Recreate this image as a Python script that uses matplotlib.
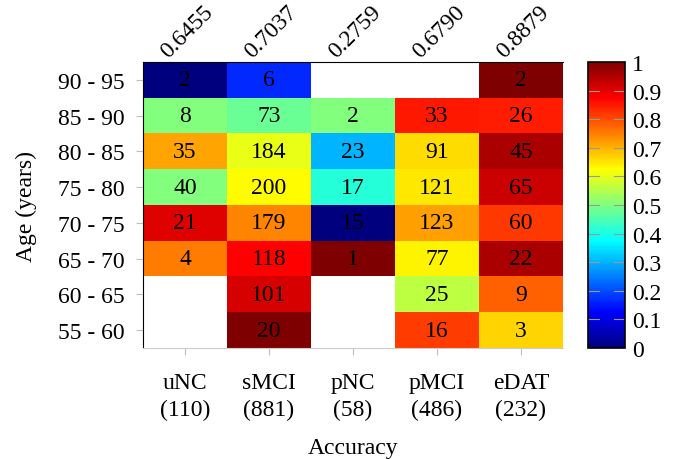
import numpy as np
import matplotlib
matplotlib.use("Agg")
import matplotlib.pyplot as plt
from matplotlib.colors import LinearSegmentedColormap

plt.rcParams["font.family"] = ["Liberation Serif", "DejaVu Serif"]
plt.rcParams["mathtext.fontset"] = "stix"

FS = 17

groups = ["uNC", "sMCI", "pNC", "pMCI", "eDAT"]
group_sizes = [110, 881, 58, 486, 232]
group_acc = [0.6455, 0.7037, 0.2759, 0.6790, 0.8879]
age_bins = ["90 - 95", "85 - 90", "80 - 85", "75 - 80",
            "70 - 75", "65 - 70", "60 - 65", "55 - 60"]

# subjects per age bin (rows top to bottom), None = empty bin
n_uNC = [2, 8, 35, 40, 21, 4, None, None]
n_sMCI = [6, 73, 184, 200, 179, 118, 101, 20]
n_pNC = [None, 2, 23, 17, 15, 1, None, None]
n_pMCI = [None, 33, 91, 121, 123, 77, 25, 16]
n_eDAT = [2, 26, 45, 65, 60, 22, 9, 3]

# accuracy per age bin
acc_uNC = [0.0, 0.5, 0.714, 0.5, 0.905, 0.75, None, None]
acc_sMCI = [0.167, 0.479, 0.603, 0.625, 0.743, 0.873, 0.911, 1.0]
acc_pNC = [None, 0.5, 0.304, 0.412, 0.0, 1.0, None, None]
acc_pMCI = [None, 0.848, 0.659, 0.645, 0.715, 0.636, 0.56, 0.8125]
acc_eDAT = [1.0, 0.846, 0.956, 0.923, 0.817, 0.955, 0.778, 0.667]

counts = [n_uNC, n_sMCI, n_pNC, n_pMCI, n_eDAT]
accs = [acc_uNC, acc_sMCI, acc_pNC, acc_pMCI, acc_eDAT]
acc_grid = np.array([[np.nan if v is None else v for v in col] for col in accs]).T
acc_grid = np.ma.masked_invalid(acc_grid)

# pgfplots-style jet
jet = LinearSegmentedColormap.from_list("pgfjet", [
    (0.0, (0, 0, 0.5)), (0.125, (0, 0, 1)), (0.375, (0, 1, 1)),
    (0.625, (1, 1, 0)), (0.875, (1, 0, 0)), (1.0, (0.5, 0, 0))])
jet.set_bad("white")

fig = plt.figure(figsize=(6.8, 4.6), dpi=100)
ax = fig.add_axes([0.2103, 0.2413, 0.6176, 0.6217])
cax = fig.add_axes([0.8647, 0.2413, 0.0544, 0.6217])

im = ax.imshow(acc_grid, cmap=jet, vmin=0, vmax=1, aspect="auto",
               interpolation="nearest")

for j, col in enumerate(counts):
    for i, n in enumerate(col):
        if n is not None:
            ax.text(j, i, str(n), ha="center", va="center", fontsize=FS)

ax.set_xticks(range(len(groups)))
ax.set_xticklabels([f"{g}\n({n})" for g, n in zip(groups, group_sizes)],
                   fontsize=FS, linespacing=1.4)
ax.set_yticks(range(len(age_bins)))
ax.set_yticklabels(age_bins, fontsize=FS)
ax.tick_params(axis="x", length=5, color="0.75", pad=12)
ax.tick_params(axis="y", length=5, color="0.75", pad=8)
ax.set_xlabel("Accuracy", fontsize=FS, labelpad=12)
ax.set_ylabel("Age (years)", fontsize=FS, labelpad=15)
ax.spines["bottom"].set_color("0.8")
ax.spines["right"].set_visible(False)

# overall accuracy per group, above each column
for j, a in enumerate(group_acc):
    ax.annotate(f"{a:.4f}", xy=(j, -0.5), xytext=(-12, 3),
                textcoords="offset points", rotation=45,
                rotation_mode="anchor", ha="left", va="baseline",
                fontsize=FS, annotation_clip=False)

cb = fig.colorbar(im, cax=cax, ticks=np.arange(0, 1.01, 0.1))
cb.ax.set_yticklabels(["0", "0.1", "0.2", "0.3", "0.4", "0.5",
                       "0.6", "0.7", "0.8", "0.9", "1"])
cb.ax.tick_params(labelsize=FS, length=0, pad=5)
cb.outline.set_linewidth(1.2)
for t in np.arange(0.1, 1.0, 0.1):
    cb.ax.plot([0, 0.3], [t, t], color="0.6", lw=0.8, transform=cb.ax.get_yaxis_transform())
    cb.ax.plot([0.7, 1], [t, t], color="0.6", lw=0.8, transform=cb.ax.get_yaxis_transform())

fig.savefig("out.png", dpi=100)
